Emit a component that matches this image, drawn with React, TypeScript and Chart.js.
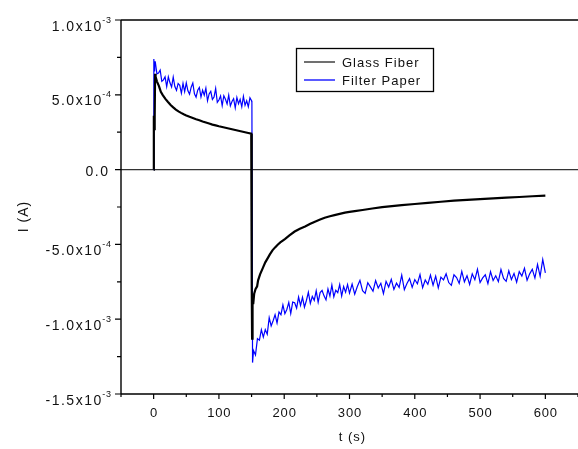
import { useEffect, useRef } from 'react';
import { Chart, registerables } from 'chart.js';

Chart.register(...registerables);

// ---- data (current in units of 1e-4 A, time in s) ----
const glassTime = [
  0, 0.3, 1, 1.6, 2.2, 3, 5, 8, 11, 14, 18, 22, 26, 30, 34, 38, 42, 46, 50, 55,
  60, 65, 70, 75, 80, 85, 90, 95, 100, 105, 110, 115, 120, 125, 130, 135, 140, 145,
  149.5, 150, 150.5, 150.8, 151.5, 152.5, 154, 156, 158.5, 160, 163, 167, 171, 175,
  178, 182, 186, 190, 194, 201, 208, 216, 224, 232, 240, 247, 255, 262, 270, 277,
  285, 293, 300, 308, 320, 335, 350, 365, 380, 400, 420, 440, 460, 480, 500, 520,
  540, 560, 580, 600,
];
const glassCurrent = [
  0, 3.6, 2.7, 3.5, 6.4, 6.2, 5.9, 5.6, 5.2, 4.98, 4.73, 4.52, 4.32, 4.16, 4.01, 3.89, 3.79, 3.7, 3.62, 3.53,
  3.45, 3.37, 3.3, 3.22, 3.15, 3.08, 3.01, 2.96, 2.9, 2.85, 2.8, 2.75, 2.7, 2.65, 2.6, 2.55, 2.5, 2.45,
  2.4, 2.38, -7.8, -11.3, -8.3, -9.0, -8.3, -8.0, -7.8, -7.4, -7.0, -6.6, -6.2, -5.9,
  -5.67, -5.4, -5.2, -5.02, -4.87, -4.65, -4.4, -4.14, -3.95, -3.8, -3.62, -3.48, -3.34, -3.22, -3.12, -3.04,
  -2.96, -2.88, -2.83, -2.78, -2.7, -2.6, -2.51, -2.44, -2.37, -2.3, -2.22, -2.15, -2.08, -2.02, -1.97, -1.92,
  -1.87, -1.83, -1.78, -1.74,
];

const paperTime = [
  0, 0.3, 0.8, 1.5,
  2.5, 5, 7.5, 10, 12.5, 15, 17.5, 20, 22.5, 25, 27.5, 30, 32.5, 35, 37.5, 40,
  42.5, 45, 47.5, 50, 52.5, 55, 57.5, 60, 62.5, 65, 67.5, 70, 72.5, 75, 77.5, 80,
  82.5, 85, 87.5, 90, 92.5, 95, 97.5, 100, 102.5, 105, 107.5, 110, 112.5, 115, 117.5, 120,
  122.5, 125, 127.5, 130, 132.5, 135, 137.5, 140, 142.5, 145, 147.5, 150,
  150.5, 151.5,
  153, 156, 159, 162, 165, 168, 171, 174, 177, 180, 183, 186, 189, 192, 195, 198, 201, 204,
  207, 210, 213, 216, 219, 222, 225, 228, 231, 234, 237, 240, 243, 246, 249, 252, 255, 258,
  261, 264, 267, 270, 273, 276, 279, 282, 285, 288, 291, 294, 297, 300,
  304, 308, 312, 316, 320, 324, 328, 332, 336, 340, 344, 348, 352, 356, 360, 364, 368, 372,
  376, 380, 384, 388, 392, 396, 400, 404, 408, 412, 416, 420, 424, 428, 432, 436, 440, 444,
  448, 452, 456, 460, 464, 468, 472, 476, 480, 484, 488, 492, 496, 500, 504, 508, 512, 516,
  520, 524, 528, 532, 536, 540, 544, 548, 552, 556, 560, 564, 568, 572, 576, 580, 584, 588,
  592, 596, 600,
];
const paperCurrent = [
  0, 7.4, 6.6, 7.2,
  7.2, 6.4, 6.45, 6.65, 5.9, 6.0, 6.2, 5.55, 6.2, 5.8, 5.52, 6.18, 5.55, 5.3, 5.76, 5.63,
  5.1, 5.76, 5.22, 5.8, 5.27, 5.04, 5.51, 5.79, 5.07, 4.84, 5.31, 5.49, 4.85, 5.31, 4.97, 5.44,
  4.6, 5.06, 5.23, 4.69, 4.85, 5.42, 4.49, 4.65, 4.92, 4.28, 4.94, 4.7, 4.39, 4.98, 4.26, 4.55,
  4.74, 4.13, 4.82, 4.4, 4.7, 4.2, 4.9, 4.3, 4.6, 4.2, 4.8, 4.6,
  4.5, -12.9,
  -12.1, -12.4, -11.3, -11.4, -10.7, -11.2, -10.7, -11.0, -9.9, -10.45, -10.1, -9.7, -10.25, -9.52, -9.7, -9.05, -9.63, -9.35,
  -8.88, -9.62, -8.86, -8.9, -9.26, -8.52, -9.08, -8.54, -9.2, -8.75, -8.2, -8.94, -8.48, -8.74, -8.1, -8.86, -8.22, -8.08,
  -8.44, -8.71, -7.98, -8.45, -7.72, -8.5, -8.06, -8.22, -7.68, -8.45, -7.82, -8.2, -7.68, -8.26,
  -7.65, -8.33, -7.82, -7.4, -8.09, -8.27, -7.56, -7.84, -8.13, -7.42, -7.91, -7.6, -8.29, -7.47, -7.85, -7.33, -8.01, -7.59,
  -7.87, -7.05, -8.03, -7.61, -7.29, -7.87, -7.35, -7.63, -7.02, -7.9, -7.38, -7.67, -7.05, -7.73, -7.12, -7.9, -7.19, -7.37,
  -6.96, -7.55, -7.74, -7.03, -7.22, -7.61, -6.8, -7.5, -7.09, -7.68, -6.97, -7.36, -6.66, -7.55, -7.24, -7.03, -7.62, -6.82,
  -7.41, -7.1, -7.49, -6.68, -7.28, -7.47, -6.76, -7.35, -6.94, -7.53, -6.82, -7.11, -6.6, -7.39, -6.97, -6.66, -7.25, -6.34,
  -7.13, -6.01, -6.9,
];

const seriesNames = ['Glass Fiber', 'Filter Paper'];
const seriesColors = ['#000000', '#0000ff'];

const xMajorTicks = [0, 100, 200, 300, 400, 500, 600];
const xMinorTicks = [-50, 50, 150, 250, 350, 450, 550, 650];
const xTickLabels = ['0', '100', '200', '300', '400', '500', '600'];
const yMajorTicks = [1.0e-3, 5.0e-4, 0, -5.0e-4, -1.0e-3, -1.5e-3];
const yMinorTicks = [7.5e-4, 2.5e-4, -2.5e-4, -7.5e-4, -1.25e-3];
const yTickMantissa = ['1.0', '5.0', '0.0', '-5.0', '-1.0', '-1.5'];
const yTickExponent = ['-3', '-4', '', '-4', '-3', '-3'];
const xTitle = 't (s)';
const yTitle = 'I (A)';

const FONT = '"Liberation Sans", Arial, Helvetica, sans-serif';

function spacedWidth(ctx: CanvasRenderingContext2D, text: string, sp: number) {
  const chars = [...text];
  let w = 0;
  for (const ch of chars) w += ctx.measureText(ch).width;
  return w + sp * Math.max(0, chars.length - 1);
}

function drawSpaced(
  ctx: CanvasRenderingContext2D,
  text: string,
  x: number,
  y: number,
  align: 'left' | 'right' | 'center',
  sp: number
) {
  const w = spacedWidth(ctx, text, sp);
  let cx = align === 'right' ? x - w : align === 'center' ? x - w / 2 : x;
  ctx.textAlign = 'left';
  for (const ch of [...text]) {
    ctx.fillText(ch, cx, y);
    cx += ctx.measureText(ch).width + sp;
  }
  return w;
}

const framePlugin = {
  id: 'originFrame',
  beforeDatasetsDraw(chart: any) {
    const { ctx, chartArea, scales } = chart;
    const y0 = scales.y.getPixelForValue(0);
    ctx.save();
    ctx.strokeStyle = '#333333';
    ctx.lineWidth = 1.2;
    ctx.beginPath();
    ctx.moveTo(chartArea.left, y0);
    ctx.lineTo(chartArea.right, y0);
    ctx.stroke();
    ctx.restore();
  },
  afterDraw(chart: any) {
    const { ctx, chartArea, scales } = chart;
    const xs = scales.x;
    const ys = scales.y;
    const L = chartArea.left;
    const R = chartArea.right;
    const T = chartArea.top;
    const B = chartArea.bottom;
    ctx.save();
    ctx.strokeStyle = '#000000';
    ctx.lineWidth = 1.4;
    ctx.beginPath();
    ctx.moveTo(L, T);
    ctx.lineTo(L, B);
    ctx.moveTo(L, B);
    ctx.lineTo(R, B);
    ctx.moveTo(L, T);
    ctx.lineTo(R, T);
    ctx.stroke();

    ctx.lineWidth = 1.2;
    ctx.beginPath();
    for (const v of xMajorTicks) {
      const px = xs.getPixelForValue(v);
      ctx.moveTo(px, B);
      ctx.lineTo(px, B + 5);
    }
    for (const v of xMinorTicks) {
      const px = xs.getPixelForValue(v);
      ctx.moveTo(px, B);
      ctx.lineTo(px, B + 3);
    }
    for (const v of yMajorTicks) {
      const py = ys.getPixelForValue(v);
      ctx.moveTo(L, py);
      ctx.lineTo(L - 6, py);
    }
    for (const v of yMinorTicks) {
      const py = ys.getPixelForValue(v);
      ctx.moveTo(L, py);
      ctx.lineTo(L - 4, py);
    }
    ctx.stroke();

    ctx.fillStyle = '#111111';
    ctx.textBaseline = 'alphabetic';
    ctx.font = `13px ${FONT}`;
    xMajorTicks.forEach((v, i) => {
      const px = xs.getPixelForValue(v);
      drawSpaced(ctx, xTickLabels[i], px, B + 23, 'center', 0.8);
    });
    yMajorTicks.forEach((v, i) => {
      const py = ys.getPixelForValue(v);
      const exp = yTickExponent[i];
      if (exp) {
        ctx.font = `9px ${FONT}`;
        const sw = drawSpaced(ctx, exp, 111, py + 2.5, 'right', 0.8);
        ctx.font = `14px ${FONT}`;
        drawSpaced(ctx, yTickMantissa[i] + 'x10', 111 - sw - 1, py + 10.5, 'right', 1.5);
      } else {
        ctx.font = `14px ${FONT}`;
        drawSpaced(ctx, yTickMantissa[i], 108, py + 6, 'right', 1.5);
      }
    });
    ctx.font = `13px ${FONT}`;
    drawSpaced(ctx, xTitle, 352, 441, 'center', 1);
    ctx.save();
    ctx.translate(28, 217);
    ctx.rotate(-Math.PI / 2);
    ctx.font = `14px ${FONT}`;
    drawSpaced(ctx, yTitle, 0, 0, 'center', 1);
    ctx.restore();

    // legend
    ctx.strokeStyle = '#000000';
    ctx.lineWidth = 1.3;
    ctx.strokeRect(296.5, 48.5, 137, 43);
    const rows = [62, 80];
    seriesNames.forEach((name, i) => {
      ctx.strokeStyle = i === 0 ? '#222222' : seriesColors[i];
      ctx.lineWidth = 1.3;
      ctx.beginPath();
      ctx.moveTo(304, rows[i]);
      ctx.lineTo(335, rows[i]);
      ctx.stroke();
      ctx.fillStyle = '#111111';
      ctx.font = `13px ${FONT}`;
      drawSpaced(ctx, name, 342, rows[i] + 4.5, 'left', 1);
    });
    ctx.restore();
  },
};

export default function App() {
  const canvasRef = useRef<HTMLCanvasElement | null>(null);

  useEffect(() => {
    const canvas = canvasRef.current;
    if (!canvas) return;
    const glassPoints = glassTime.map((t, i) => ({ x: t, y: glassCurrent[i] * 1e-4 }));
    const paperPoints = paperTime.map((t, i) => ({ x: t, y: paperCurrent[i] * 1e-4 }));
    const chart = new Chart(canvas, {
      type: 'line',
      data: {
        datasets: [
          {
            label: seriesNames[0],
            data: glassPoints,
            borderColor: seriesColors[0],
            borderWidth: 2.2,
            pointRadius: 0,
            tension: 0,
            fill: false,
          },
          {
            label: seriesNames[1],
            data: paperPoints,
            borderColor: seriesColors[1],
            borderWidth: 1.2,
            pointRadius: 0,
            tension: 0,
            fill: false,
          },
        ],
      },
      options: {
        animation: false,
        responsive: false,
        maintainAspectRatio: false,
        devicePixelRatio: 1,
        layout: { padding: { top: 20, right: 0, bottom: 0, left: 0 } },
        plugins: {
          legend: { display: false },
          tooltip: { enabled: false },
          title: { display: false },
        },
        scales: {
          x: {
            type: 'linear',
            min: -50,
            max: 650,
            ticks: { display: false },
            grid: { display: false },
            border: { display: false },
            afterFit: (s: any) => {
              s.height = 55;
            },
          },
          y: {
            type: 'linear',
            min: -1.5e-3,
            max: 1.0e-3,
            ticks: { display: false },
            grid: { display: false },
            border: { display: false },
            afterFit: (s: any) => {
              s.width = 121;
            },
          },
        },
      },
      plugins: [framePlugin],
    });
    return () => chart.destroy();
  }, []);

  return (
    <div style={{ position: 'absolute', left: 0, top: 0, width: 578, height: 449, background: '#fff' }}>
      <canvas ref={canvasRef} width={578} height={449} style={{ display: 'block' }} />
    </div>
  );
}
